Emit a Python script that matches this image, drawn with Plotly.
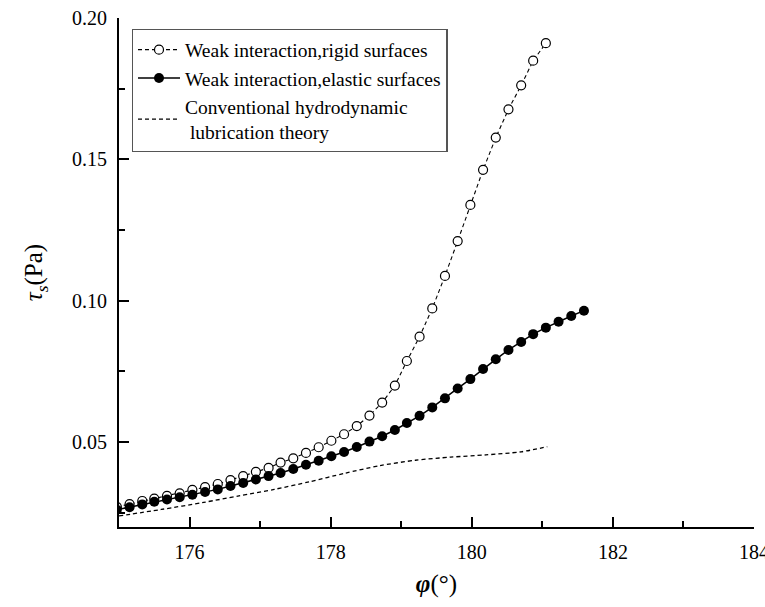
import plotly.graph_objects as go

# Contact angle phi (degrees) sampled for the lubrication runs
phi = [174.97, 175.15, 175.33, 175.50, 175.68, 175.86, 176.04, 176.22, 176.40, 176.58,
       176.76, 176.94, 177.12, 177.29, 177.47, 177.65, 177.83, 178.01, 178.19,
       178.37, 178.55, 178.73, 178.91, 179.08, 179.26, 179.44, 179.62, 179.80,
       179.98, 180.16, 180.34, 180.52, 180.70, 180.87, 181.05, 181.23, 181.41,
       181.59]

# Shear stress tau_s (Pa), weak interaction with rigid surfaces
tau_rigid = [0.0271, 0.0281, 0.0292, 0.0300, 0.0310, 0.0319, 0.0331, 0.0341, 0.0352,
             0.0366, 0.0380, 0.0395, 0.0409, 0.0428, 0.0443, 0.0462, 0.0482,
             0.0505, 0.0528, 0.0557, 0.0594, 0.0640, 0.0700, 0.0787, 0.0873,
             0.0973, 0.1088, 0.1211, 0.1339, 0.1463, 0.1577, 0.1677, 0.1762,
             0.1849, 0.1911]

# Shear stress tau_s (Pa), weak interaction with elastic surfaces
tau_elastic = [0.0261, 0.0270, 0.0280, 0.0289, 0.0297, 0.0305, 0.0314, 0.0324, 0.0333,
               0.0345, 0.0356, 0.0368, 0.0380, 0.0391, 0.0405, 0.0420, 0.0434,
               0.0450, 0.0465, 0.0483, 0.0502, 0.0521, 0.0543, 0.0568, 0.0593,
               0.0623, 0.0655, 0.0690, 0.0723, 0.0759, 0.0793, 0.0826, 0.0854,
               0.0882, 0.0905, 0.0926, 0.0946, 0.0965]

# Conventional hydrodynamic lubrication theory
phi_conv = [175.00, 175.60, 176.20, 176.70, 177.20, 177.70, 178.20, 178.70,
            179.20, 179.70, 180.20, 180.70, 181.07]
tau_conv = [0.0239, 0.0262, 0.0287, 0.0310, 0.0333, 0.0360, 0.0390, 0.0417,
            0.0436, 0.0447, 0.0455, 0.0466, 0.0484]

labels = ["Weak interaction,rigid surfaces",
          "Weak interaction,elastic surfaces",
          "Conventional hydrodynamic<br> lubrication theory"]

FONT = "Liberation Serif"

fig = go.Figure()

fig.add_trace(go.Scatter(
    x=phi[:len(tau_rigid)], y=tau_rigid, name=labels[0], mode="lines+markers",
    line=dict(color="black", width=1.1, dash="4px,3px"),
    marker=dict(symbol="circle", size=9, color="white",
                line=dict(color="black", width=1.2)),
))

fig.add_trace(go.Scatter(
    x=phi[:len(tau_elastic)], y=tau_elastic, name=labels[1], mode="lines+markers",
    line=dict(color="black", width=1.5),
    marker=dict(symbol="circle", size=10, color="black",
                line=dict(color="black", width=0)),
))

fig.add_trace(go.Scatter(
    x=phi_conv, y=tau_conv, name=labels[2], mode="lines",
    line=dict(color="black", width=1.3, dash="4px,3px", shape="spline", smoothing=0.8),
))

axis_common = dict(
    showline=True, linecolor="black", linewidth=2, mirror=False,
    showgrid=False, zeroline=False, automargin=False,
    ticks="inside", ticklen=10, tickwidth=1.5, tickcolor="black",
    tickfont=dict(family=FONT, size=20, color="black"),
)

fig.update_xaxes(
    range=[175, 184], tick0=176, dtick=2,
    minor=dict(ticks="inside", dtick=1, tick0=175, ticklen=6, tickwidth=1.5,
               tickcolor="black", showgrid=False),
    title=dict(text="<b><i>φ</i></b>(°)", font=dict(family=FONT, size=25, color="black"),
               standoff=12),
    ticklabelstandoff=6,
    ticklabeloverflow="allow",
    **axis_common,
)

fig.update_yaxes(
    range=[0.02, 0.20], tick0=0, dtick=0.05, tickformat=".2f",
    minor=dict(ticks="inside", dtick=0.025, tick0=0, ticklen=6, tickwidth=1.5,
               tickcolor="black", showgrid=False),
    title=dict(text="<i>τ</i><sub><i>s</i></sub>(Pa)",
               font=dict(family=FONT, size=25, color="black"), standoff=22),
    ticklabelstandoff=6,
    **axis_common,
)

fig.update_layout(
    width=765, height=607,
    margin=dict(l=119, r=11, t=18, b=80),
    paper_bgcolor="white", plot_bgcolor="white",
    font=dict(family=FONT, color="black"),
    showlegend=True,
    legend=dict(
        x=0.02, y=0.978, xanchor="left", yanchor="top",
        bgcolor="white", bordercolor="#555555", borderwidth=1.3,
        font=dict(family=FONT, size=19.5, color="black"),
        tracegroupgap=0, itemwidth=42,
    ),
)

fig.write_html("out.html")
